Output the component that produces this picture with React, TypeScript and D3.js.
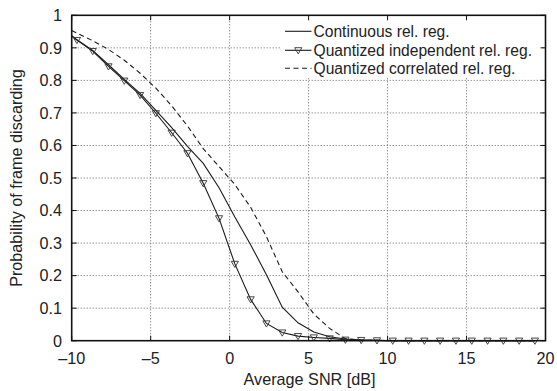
import React from "react";
import * as d3 from "d3";

const snr = [-10, -9.67, -8.67, -7.67, -6.67, -5.67, -4.67, -3.67, -2.67, -1.67, -0.67, 0.33, 1.33, 2.33, 3.33, 4.33, 5.33, 6.33, 7.33, 8.33, 9.33, 10.33, 11.33, 12.33, 13.33, 14.33, 15.33, 16.33, 17.33, 18.33, 19.33];

const continuous = [0.936, 0.925, 0.892, 0.848, 0.803, 0.760, 0.708, 0.655, 0.597, 0.545, 0.470, 0.380, 0.295, 0.203, 0.103, 0.055, 0.027, 0.012, 0.005, 0.002, 0.001, 0, 0, 0, 0, 0, 0, 0, 0, 0, 0];

const quantIndep = [0.937, 0.924, 0.890, 0.843, 0.799, 0.755, 0.699, 0.639, 0.576, 0.484, 0.376, 0.236, 0.127, 0.053, 0.025, 0.014, 0.010, 0.007, 0.003, 0.002, 0.001, 0, 0, 0, 0, 0, 0, 0, 0, 0, 0];

const quantCorr = [0.953, 0.945, 0.922, 0.895, 0.862, 0.822, 0.776, 0.722, 0.660, 0.590, 0.535, 0.480, 0.410, 0.320, 0.212, 0.150, 0.082, 0.038, 0.006, 0.002, 0.001, 0, 0, 0, 0, 0, 0, 0, 0, 0, 0];

const xTicks = [-10, -5, 0, 5, 10, 15, 20];
const xTickLabels = ["\u201310", "\u20135", "0", "5", "10", "15", "20"];
const yTicks = [0, 0.1, 0.2, 0.3, 0.4, 0.5, 0.6, 0.7, 0.8, 0.9, 1];
const yTickLabels = ["0", "0.1", "0.2", "0.3", "0.4", "0.5", "0.6", "0.7", "0.8", "0.9", "1"];
const legendLabels = ["Continuous rel. reg.", "Quantized independent rel. reg.", "Quantized correlated rel. reg."];

const W = 557, H = 391;
const L = 71.7, R = 545.5, T = 15.3, B = 340.7;
const FONT = "'Liberation Sans', Arial, Helvetica, sans-serif";
const FS = 16.2;
const LFS = 15.6;

export default function App() {
  const x = d3.scaleLinear().domain([-10, 20]).range([L, R]);
  const y = d3.scaleLinear().domain([0, 1]).range([B, T]);
  const line = d3.line<[number, number]>().x(d => x(d[0])).y(d => y(d[1]));
  const pts = (vals: number[]) => snr.map((s, i) => [s, vals[i]] as [number, number]);
  const tri = (cx: number, cy: number) => `M${cx - 3.6},${cy - 2.6}L${cx + 3.6},${cy - 2.6}L${cx},${cy + 3.6}Z`;
  const lineColor = "#1a1a1a";
  const legY = [31.3, 50.3, 68.3];
  const legX0 = 285, legX1 = 311.5, legTX = 313.5;

  return (
    <svg width={W} height={H} style={{ position: "absolute", left: 0, top: 0, background: "#fff" }} fontFamily={FONT}>
      <rect x={0} y={0} width={W} height={H} fill="#fff" />
      {xTicks.slice(1, -1).map(t => (
        <line key={"gx" + t} x1={x(t)} x2={x(t)} y1={T} y2={B} stroke="#666" strokeWidth={1} strokeDasharray="1,2" />
      ))}
      {yTicks.slice(1, -1).map(t => (
        <line key={"gy" + t} x1={L} x2={R} y1={y(t)} y2={y(t)} stroke="#666" strokeWidth={1} strokeDasharray="1,2" />
      ))}
      <path d={line(pts(continuous)) || ""} fill="none" stroke={lineColor} strokeWidth={1.1} />
      <path d={line(pts(quantCorr)) || ""} fill="none" stroke={lineColor} strokeWidth={1.1} strokeDasharray="5,3.5" />
      <path d={line(pts(quantIndep)) || ""} fill="none" stroke={lineColor} strokeWidth={1.1} />
      {snr.map((s, i) => i === 0 ? null : (
        <path key={"m" + i} d={tri(x(s), y(quantIndep[i]))} fill="none" stroke="#333" strokeWidth={0.9} />
      ))}
      <rect x={281} y={T + 1} width={R - 285} height={61} fill="#fff" />
      {legendLabels.map((lab, i) => (
        <g key={"leg" + i}>
          <line x1={legX0} x2={legX1} y1={legY[i]} y2={legY[i]} stroke={lineColor} strokeWidth={1.1}
            strokeDasharray={i === 2 ? "5,3.5" : undefined} />
          {i === 1 && <path d={tri((legX0 + legX1) / 2, legY[i])} fill="none" stroke="#333" strokeWidth={0.9} />}
          <text x={legTX} y={legY[i] + 5.6} fontSize={LFS} fill="#222">{lab}</text>
        </g>
      ))}
      <rect x={L} y={T} width={R - L} height={B - T} fill="none" stroke="#111" strokeWidth={1.6} />
      {xTicks.map(t => (
        <g key={"tx" + t}>
          <line x1={x(t)} x2={x(t)} y1={B} y2={B - 5} stroke="#111" />
          <line x1={x(t)} x2={x(t)} y1={T} y2={T + 5} stroke="#111" />
        </g>
      ))}
      {yTicks.map(t => (
        <g key={"ty" + t}>
          <line x1={L} x2={L + 5} y1={y(t)} y2={y(t)} stroke="#111" />
          <line x1={R} x2={R - 5} y1={y(t)} y2={y(t)} stroke="#111" />
        </g>
      ))}
      {xTicks.map((t, i) => (
        <text key={"xl" + t} x={x(t)} y={363.5} fontSize={FS} textAnchor="middle" fill="#222">{xTickLabels[i]}</text>
      ))}
      {yTicks.map((t, i) => (
        <text key={"yl" + t} x={62} y={y(t) + 5.8} fontSize={FS} textAnchor="end" fill="#222">{yTickLabels[i]}</text>
      ))}
      <text x={(L + R) / 2 + 1} y={385} fontSize={FS} textAnchor="middle" fill="#222">Average SNR [dB]</text>
      <text transform={`translate(22,${(T + B) / 2}) rotate(-90)`} fontSize={FS} textAnchor="middle" fill="#222">Probability of frame discarding</text>
    </svg>
  );
}
